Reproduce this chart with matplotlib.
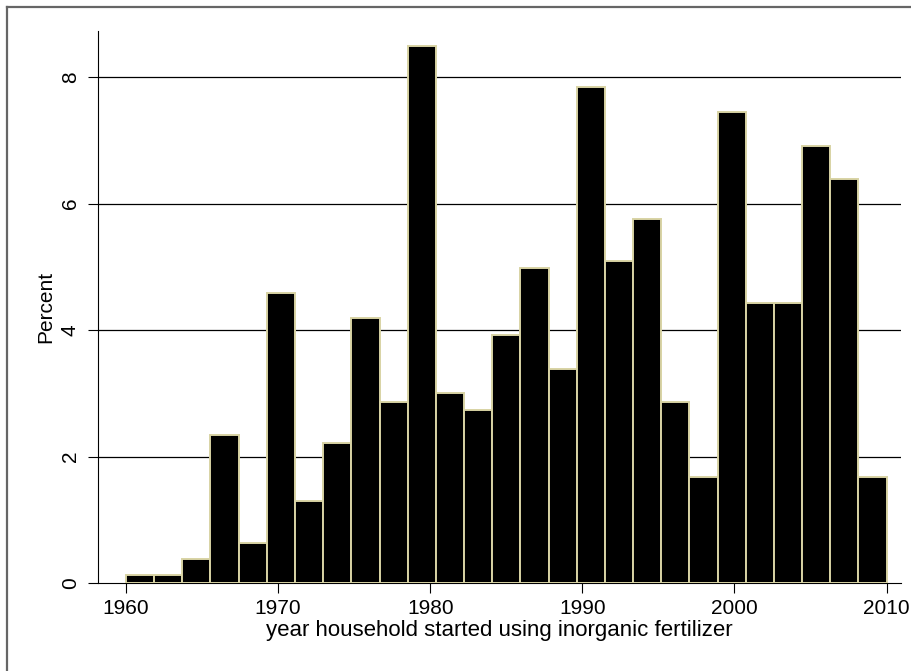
import numpy as np
import matplotlib
matplotlib.use("Agg")
import matplotlib.pyplot as plt
from matplotlib.lines import Line2D

plt.rcParams['font.family'] = ['Liberation Sans', 'DejaVu Sans']

# histogram: 27 equal bins from 1960 to 2010
bin_start = 1960
bin_end = 2010
n_bins = 27
pct = [0.13, 0.13, 0.38, 2.34, 0.63, 4.58, 1.30, 2.21, 4.19, 2.86,
       8.49, 3.00, 2.74, 3.92, 4.98, 3.38, 7.84, 5.09, 5.75, 2.86,
       1.67, 7.45, 4.43, 4.43, 6.91, 6.39, 1.67]
x_ticks = [1960, 1970, 1980, 1990, 2000, 2010]
y_ticks = [0, 2, 4, 6, 8]

edges = np.linspace(bin_start, bin_end, n_bins + 1)

fig = plt.figure(figsize=(9.11, 6.71), dpi=100)
ax = fig.add_axes([98/911, 88/671, 803/911, 552/671])

ax.bar(edges[:-1], pct, width=np.diff(edges), align='edge',
       color='black', edgecolor='#d8d3a4', linewidth=1.4, zorder=3)

ax.set_xlim(1958.16, 2010.95)
ax.set_ylim(0, 8.73)
ax.set_xticks(x_ticks)
ax.set_yticks(y_ticks)
ax.set_yticklabels([str(v) for v in y_ticks], rotation=90, va='center')
ax.tick_params(axis='both', length=7.2, width=0.8, labelsize=15, pad=4)
ax.tick_params(axis='y', pad=6)

for v in y_ticks[1:]:
    ax.axhline(v, color='black', linewidth=0.9, zorder=1)

for s in ['top', 'right']:
    ax.spines[s].set_visible(False)
ax.spines['left'].set_linewidth(0.8)
ax.spines['bottom'].set_linewidth(0.8)

ax.set_xlabel('year household started using inorganic fertilizer', fontsize=16, labelpad=2)
ax.set_ylabel('Percent', fontsize=15, labelpad=4)

# partial frame of the graph region (top and left only, rest cropped)
fig.add_artist(Line2D([7/911, 1], [1 - 7/671, 1 - 7/671], color='#666666', linewidth=1.6,
                      transform=fig.transFigure))
fig.add_artist(Line2D([7/911, 7/911], [0, 1 - 7/671], color='#666666', linewidth=1.6,
                      transform=fig.transFigure))

fig.savefig('out.png', dpi=100)
